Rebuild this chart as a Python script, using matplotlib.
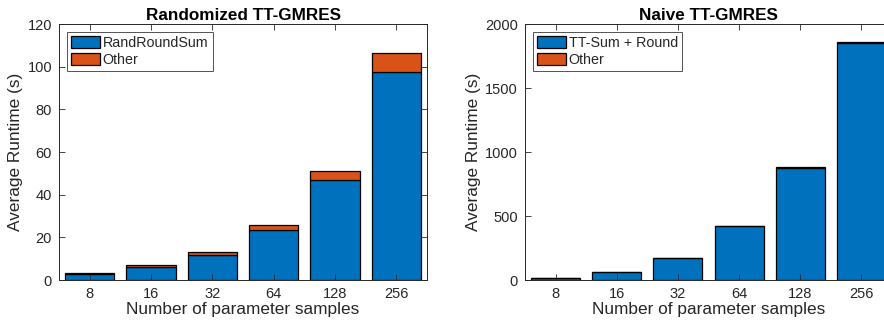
import numpy as np
import matplotlib
matplotlib.use("Agg")
import matplotlib.pyplot as plt

plt.rcParams['font.family'] = ['Liberation Sans', 'DejaVu Sans']

samples = ['8', '16', '32', '64', '128', '256']

# randomized TT-GMRES (seconds)
rand_roundsum = [2.7, 6.2, 11.7, 23.4, 46.8, 97.6]
rand_other = [0.8, 1.0, 1.3, 2.3, 4.5, 8.7]

# naive TT-GMRES (seconds)
naive_sumround = [12, 62, 168, 420, 875, 1852]
naive_other = [3, 3, 3, 4, 6, 8]

blue = '#0072BD'
orange = '#D95319'
axcol = '#262626'

fig = plt.figure(figsize=(8.84, 3.27), dpi=100)
W, H = 884, 327


def panel(rect, lower, upper, labels, title, ylim, yticks):
    x0, y0, x1, y1 = rect
    ax = fig.add_axes([x0 / W, 1 - y1 / H, (x1 - x0) / W, (y1 - y0) / H])
    x = np.arange(1, len(samples) + 1)
    ax.bar(x, lower, 0.8, color=blue, edgecolor='black', linewidth=0.9, label=labels[0])
    ax.bar(x, upper, 0.8, bottom=lower, color=orange, edgecolor='black', linewidth=0.9, label=labels[1])
    ax.set_xlim(0.5, 6.5)
    ax.set_ylim(*ylim)
    ax.set_xticks(x)
    ax.set_xticklabels(samples)
    ax.set_yticks(yticks)
    ax.tick_params(direction='in', top=True, right=True, labelsize=10.5, colors=axcol,
                   length=4, width=0.6, pad=5)
    for s in ax.spines.values():
        s.set_color(axcol)
        s.set_linewidth(0.7)
    ax.set_title(title, fontsize=12.3, fontweight='bold', pad=3)
    ax.set_xlabel('Number of parameter samples', fontsize=12.4, color=axcol, labelpad=1)
    ax.set_ylabel('Average Runtime (s)', fontsize=12.4, color=axcol, labelpad=3)
    leg = ax.legend(loc='upper left', fontsize=10.3, frameon=True, fancybox=False,
                    borderpad=0.3, handlelength=2.0, handleheight=0.95,
                    handletextpad=0.2, labelspacing=0.2, borderaxespad=0.55)
    leg.get_frame().set_edgecolor(axcol)
    leg.get_frame().set_linewidth(0.7)
    for t in leg.get_texts():
        t.set_color(axcol)
    return ax


panel((59, 24, 427, 280), rand_roundsum, rand_other, ['RandRoundSum', 'Other'],
      'Randomized TT-GMRES', (0, 120), range(0, 121, 20))
panel((525, 24, 892, 280), naive_sumround, naive_other, ['TT-Sum + Round', 'Other'],
      'Naive TT-GMRES', (0, 2000), range(0, 2001, 500))

fig.savefig('out.png', dpi=100)
